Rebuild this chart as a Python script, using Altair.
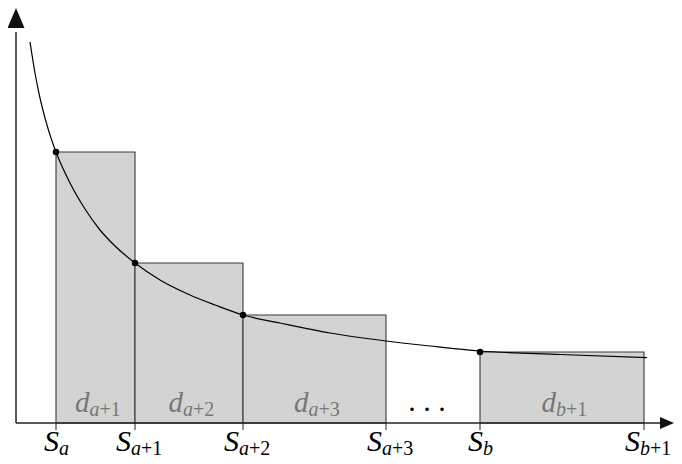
import altair as alt
import pandas as pd

# boundaries S_k on the horizontal axis
s_letter = ["a", "a", "a", "a", "b", "b"]
s_suffix = ["", "+1", "+2", "+3", "", "+1"]
s_pos = [40, 119, 227, 370, 464, 628]

# rectangles d_k between consecutive boundaries
d_letter = ["a", "a", "a", "b"]
d_suffix = ["+1", "+2", "+3", "+1"]
d_left = [40, 119, 227, 464]
d_right = [119, 227, 370, 628]
d_height = [271, 160, 108, 71]

# decreasing curve
curve_x = [14, 19, 24, 29, 34, 40, 54, 69, 84, 99, 119, 144, 174, 199, 227,
           264, 314, 370, 414, 464, 544, 631]
curve_y = [381, 350, 325, 305, 288, 271, 240, 214, 193, 177, 160, 143, 128,
           118, 108, 100, 90, 82, 77, 72, 68.5, 65.3]

S_df = pd.DataFrame({"s": s_pos, "letter": s_letter, "suffix": s_suffix})
D_df = pd.DataFrame({"left": d_left, "right": d_right, "h": d_height,
                     "letter": d_letter, "suffix": d_suffix})
C_df = pd.DataFrame({"x": curve_x, "y": curve_y})
G_df = pd.DataFrame({"x": [(s_pos[3] + s_pos[4]) / 2]})
one = pd.DataFrame({"k": [0]})

xs = alt.Scale(domain=[0, 658], nice=False, zero=False)
ys = alt.Scale(domain=[0, 415], nice=False, zero=False)

SERIF = "Liberation Serif"

rects = alt.Chart(D_df).mark_rect(fill="#d3d3d3", stroke="#3a3a3a", strokeWidth=1.1).encode(
    x=alt.X("left:Q", scale=xs, axis=None),
    x2="right:Q",
    y=alt.Y("h:Q", scale=ys, axis=None),
    y2=alt.datum(0),
)

ticks = alt.Chart(S_df).mark_rule(color="#333333", strokeWidth=1.1).encode(
    x=alt.X("s:Q", scale=xs, axis=None),
    y=alt.value(415),
    y2=alt.value(422),
)

curve = alt.Chart(C_df).mark_line(color="black", strokeWidth=1.2, interpolate="monotone").encode(
    x=alt.X("x:Q", scale=xs, axis=None),
    y=alt.Y("y:Q", scale=ys, axis=None),
    order="x:Q",
)

points = alt.Chart(D_df).mark_circle(size=42, color="black", opacity=1).encode(
    x=alt.X("left:Q", scale=xs, axis=None),
    y=alt.Y("h:Q", scale=ys, axis=None),
)

yaxis = alt.Chart(one).mark_rule(color="#222222", strokeWidth=1.5).encode(
    x=alt.value(0), y=alt.value(415), y2=alt.value(24))
xaxis = alt.Chart(one).mark_rule(color="#222222", strokeWidth=1.5).encode(
    x=alt.value(0), x2=alt.value(646), y=alt.value(415))

yarrow = alt.Chart(one).mark_point(shape="M0,-1L0.85,1L-0.85,1Z", filled=True, fill="#111111",
                                   strokeWidth=0, size=400, opacity=1).encode(
    x=alt.value(0), y=alt.value(10))
xarrow = alt.Chart(one).mark_point(shape="M1,0L-1,0.85L-1,-0.85Z", filled=True, fill="#111111",
                                   strokeWidth=0, size=196, opacity=1).encode(
    x=alt.value(651), y=alt.value(415))

# S labels below the axis
S_base = alt.Chart(S_df).transform_calculate(
    anchor="datum.s + (datum.suffix == '' ? 3 : -4)")
S_main = S_base.mark_text(font=SERIF, fontStyle="italic", fontSize=30, align="right",
                          baseline="alphabetic", color="black").encode(
    x=alt.X("anchor:Q", scale=xs, axis=None), y=alt.value(443), text=alt.value("S"))
S_sub = S_base.mark_text(font=SERIF, fontStyle="italic", fontSize=20, align="left",
                         baseline="alphabetic", color="black").encode(
    x=alt.X("anchor:Q", scale=xs, axis=None), y=alt.value(447), text="letter:N")
S_suf = S_base.mark_text(font=SERIF, fontSize=20, align="left", dx=10,
                         baseline="alphabetic", color="black").encode(
    x=alt.X("anchor:Q", scale=xs, axis=None), y=alt.value(447), text="suffix:N")

# d labels inside rectangles
GRAY = "#777777"
D_base = alt.Chart(D_df).transform_calculate(anchor="(datum.left + datum.right) / 2 - 6")
D_main = D_base.mark_text(font=SERIF, fontStyle="italic", fontSize=29, align="right",
                          baseline="alphabetic", color=GRAY).encode(
    x=alt.X("anchor:Q", scale=xs, axis=None), y=alt.value(404), text=alt.value("d"))
D_sub = D_base.mark_text(font=SERIF, fontStyle="italic", fontSize=20, align="left",
                         baseline="alphabetic", color=GRAY).encode(
    x=alt.X("anchor:Q", scale=xs, axis=None), y=alt.value(408), text="letter:N")
D_suf = D_base.mark_text(font=SERIF, fontSize=20, align="left", dx=10,
                         baseline="alphabetic", color=GRAY).encode(
    x=alt.X("anchor:Q", scale=xs, axis=None), y=alt.value(408), text="suffix:N")

dots = alt.Chart(G_df).mark_text(font=SERIF, fontSize=30, align="center", dx=-6,
                                 baseline="alphabetic", color="black").encode(
    x=alt.X("x:Q", scale=xs, axis=None), y=alt.value(403), text=alt.value(". . ."))

chart = alt.layer(
    rects, ticks, curve, points, yaxis, xaxis, yarrow, xarrow,
    S_main, S_sub, S_suf, D_main, D_sub, D_suf, dots,
).properties(
    width=658, height=415,
    padding={"left": 8, "top": 0, "right": 0, "bottom": 41},
    autosize=alt.AutoSizeParams(type="none"),
    background="white",
).configure_view(stroke=None)

chart.save("out.html", embed_options={"renderer": "svg", "actions": False})
